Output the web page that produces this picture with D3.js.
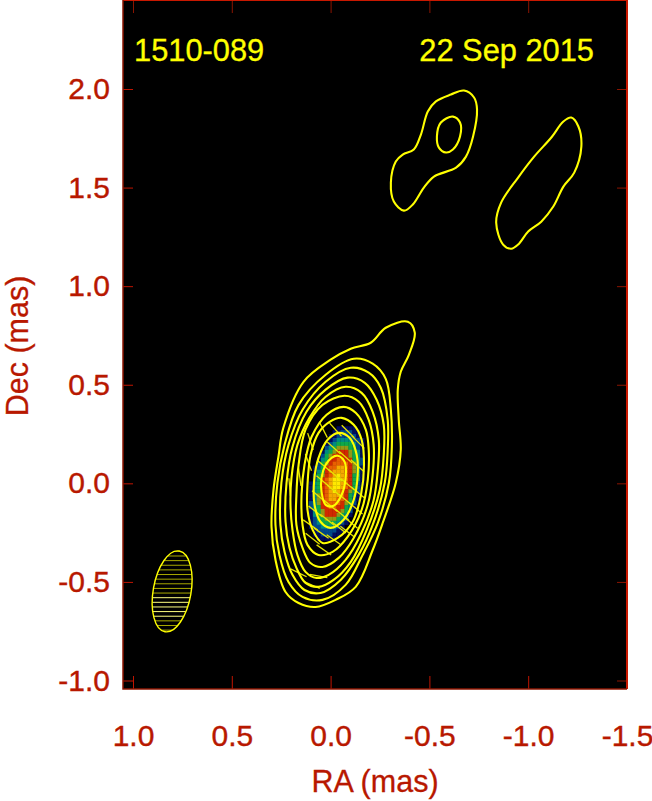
<!DOCTYPE html>
<html>
<head>
<meta charset="utf-8">
<script src="https://cdn.jsdelivr.net/npm/d3@7"></script>
<style>
  body { margin: 0; background: #fff; }
  svg { display: block; }
  text { font-family: "Liberation Sans", Arial, sans-serif; }
  .axis text { font-size: 30px; fill: #b81800; stroke: #b81800; stroke-width: 0.4; }
  .axis line { stroke-width: 1; }
  .x0 line, .y0 line { stroke: #c01400; }
  .x1 line, .y1 line { stroke: #8a1400; }
  .title { font-size: 30.8px; fill: #ffff00; stroke: #ffff00; stroke-width: 0.3; }
  .label { font-size: 30.5px; fill: #b81800; stroke: #b81800; stroke-width: 0.3; }
</style>
</head>
<body>
<div id="graphic"></div>
<script>
// tick values and labels
var raTicks = [1.0, 0.5, 0.0, -0.5, -1.0, -1.5];
var raLabels = ["1.0", "0.5", "0.0", "-0.5", "-1.0", "-1.5"];
var decTicks = [2.0, 1.5, 1.0, 0.5, 0.0, -0.5, -1.0];
var decLabels = ["2.0", "1.5", "1.0", "0.5", "0.0", "-0.5", "-1.0"];

// contours, [RA, Dec] in mas
var contourOuter = [[-.391,.820],[-.426,.764],[-.396,.652],[-.355,.566],[-.340,.475],[-.345,.322],[-.355,.170],[-.330,.003],[-.264,-.200],[-.213,-.338],[-.127,-.525],[-.025,-.591],[.076,-.627],[.162,-.607],[.228,-.551],[.279,-.388],[.299,-.221],[.289,-.033],[.264,.135],[.239,.282],[.137,.515],[0,.627],[-.102,.683],[-.203,.713],[-.279,.789]];
var contour1 = [[-.117,.632],[-.213,.607],[-.279,.530],[-.305,.373],[-.310,.185],[-.295,.003],[-.239,-.200],[-.162,-.363],[-.076,-.515],[.041,-.591],[.142,-.576],[.213,-.500],[.259,-.363],[.279,-.211],[.269,.003],[.233,.195],[.162,.398],[.025,.551]];
var contour2 = [[-.102,.586],[-.193,.561],[-.254,.485],[-.289,.322],[-.289,.170],[-.274,.003],[-.213,-.211],[-.142,-.363],[-.051,-.490],[.051,-.556],[.132,-.541],[.193,-.464],[.233,-.348],[.254,-.211],[.249,.003],[.213,.195],[.142,.373],[.025,.515]];
var contour3 = [[-.086,.536],[-.173,.510],[-.233,.424],[-.269,.297],[-.269,.145],[-.249,-.033],[-.183,-.236],[-.102,-.398],[-.015,-.490],[.061,-.525],[.127,-.505],[.173,-.429],[.208,-.327],[.228,-.195],[.223,.003],[.193,.185],[.122,.363],[.025,.475]];
var contour4 = [[-.076,.490],[-.157,.459],[-.213,.363],[-.244,.221],[-.239,.069],[-.218,-.084],[-.152,-.261],[-.076,-.388],[.010,-.464],[.071,-.480],[.127,-.449],[.168,-.363],[.193,-.236],[.203,-.109],[.198,.028],[.168,.195],[.107,.332],[.025,.439]];
var contour5 = [[-.071,.444],[-.142,.414],[-.193,.322],[-.218,.195],[-.213,.043],[-.188,-.109],[-.117,-.277],[-.041,-.378],[.041,-.424],[.102,-.404],[.142,-.327],[.173,-.211],[.173,-.058],[.162,.094],[.127,.272],[.041,.398]];
var contour6 = [[-.066,.388],[-.127,.358],[-.178,.272],[-.193,.170],[-.188,.018],[-.157,-.135],[-.086,-.272],[-.010,-.348],[.061,-.363],[.117,-.312],[.142,-.211],[.147,-.058],[.132,.094],[.096,.236],[.020,.348]];
var contour7 = [[-.056,.332],[-.117,.297],[-.157,.221],[-.169,.094],[-.154,-.058],[-.112,-.195],[-.036,-.277],[.041,-.302],[.091,-.236],[.117,-.135],[.117,-.008],[.101,.145],[.061,.256],[.005,.312]];
var contour8 = [[-.041,.256],[-.096,.231],[-.132,.145],[-.137,.043],[-.117,-.084],[-.066,-.185],[0,-.226],[.051,-.195],[.081,-.109],[.083,.018],[.061,.129],[.015,.221]];
var contour9 = [[-.036,.140],[-.071,.109],[-.076,.028],[-.056,-.058],[-.015,-.114],[.025,-.109],[.046,-.043],[.046,.028],[.025,.094],[-.005,.129]];
var jetBlob = [[-.675,1.992],[-.726,1.957],[-.741,1.896],[-.721,1.759],[-.685,1.657],[-.635,1.601],[-.523,1.556],[-.472,1.500],[-.416,1.414],[-.371,1.383],[-.320,1.429],[-.305,1.525],[-.330,1.632],[-.365,1.667],[-.421,1.693],[-.457,1.769],[-.492,1.886],[-.533,1.937],[-.609,1.972]];
var jetBlobInner = [[-.619,1.860],[-.655,1.830],[-.655,1.759],[-.619,1.693],[-.584,1.678],[-.548,1.703],[-.538,1.759],[-.558,1.830]];
var farBlob = [[-1.218,1.855],[-1.254,1.810],[-1.269,1.708],[-1.233,1.576],[-1.178,1.505],[-1.127,1.404],[-1.066,1.327],[-1.000,1.277],[-.949,1.211],[-.914,1.190],[-.873,1.211],[-.838,1.322],[-.863,1.424],[-.949,1.551],[-1.030,1.657],[-1.117,1.754],[-1.178,1.835]];

// image levels, one string per row, Dec from +0.28 down to -0.28, RA from 0.12 to -0.16
var imageRows = [
  "000000001111100",
  "000000011222110",
  "000000112222210",
  "000000123333221",
  "000001234444321",
  "000002345554421",
  "000013456665431",
  "000024566665431",
  "000134667766432",
  "000245677776532",
  "001246778876531",
  "001346788876531",
  "002456789876431",
  "002467899876431",
  "013467899876421",
  "013467899876420",
  "013467898765420",
  "013567888764310",
  "013567887764210",
  "023567777654200",
  "023466776643100",
  "013456666542000",
  "013456665431000",
  "012445554320000",
  "012344443210000",
  "012233332100000",
  "001222221100000",
  "001122211000000",
  "000111110000000"
];
var imageDec = d3.range(imageRows.length).map(function (i) { return 0.28 - i * 0.02; });
var imageRa = d3.range(15).map(function (i) { return 0.12 - i * 0.02; });
var imageColors = ["#000000", "#04085a", "#05488a", "#058a80", "#0fa848", "#8f9a14", "#d02a00", "#e86000", "#f5a800", "#ffe800"];

// polarization sticks: RA, Dec, EVPA in degrees
var stickRa = [-.088,-.139,-.025,.037,-.017,-.076,-.136,.030,-.025,-.085,-.139,.037,-.017,-.076,-.127,.059,0,-.059,-.102,.076,.017,-.042,-.085,.102,.047,-.017,.034,.102,.112,.156,.207,.162,.096,.061,.091];
var stickDec = [.263,.209,.272,.272,.179,.133,.089,.085,.040,-.004,-.047,.009,-.037,-.084,-.126,-.067,-.114,-.160,-.199,-.143,-.185,-.224,-.245,-.211,-.253,-.287,-.338,.212,.106,.031,-.019,-.454,-.515,-.470,-.281];
var stickEvpa = [45,45,42,27,48,48,48,50,50,50,50,50,50,50,50,50,50,50,50,52,52,52,52,55,55,55,55,18,20,8,5,64,66,80,52];

// restoring beam in mas and degrees
var beamRa = 0.802, beamDec = -0.548, beamMajor = 0.208, beamMinor = 0.096, beamPa = -10;

var width = 652, height = 801;
var margin = {top: 0, right: 25, bottom: 112, left: 123};
var svg = d3.select("#graphic").append("svg")
    .attr("width", width)
    .attr("height", height);

var xScale = d3.scaleLinear().domain([1.0, -1.5]).range([133, 627]);
var yScale = d3.scaleLinear().domain([2.0, -1.0]).range([89, 680.5]);
var plotRight = width - margin.right, plotBottom = height - margin.bottom;

svg.append("rect")
    .attr("x", margin.left)
    .attr("y", margin.top)
    .attr("width", plotRight - margin.left)
    .attr("height", plotBottom - margin.top)
    .attr("fill", "#000");

var defs = svg.append("defs");
defs.append("filter").attr("id", "soften")
    .append("feGaussianBlur").attr("stdDeviation", 0.7);

// IMAGE
var cellW = Math.abs(xScale(0) - xScale(0.02)), cellH = Math.abs(yScale(0) - yScale(0.02));
var imageG = svg.append("g").attr("filter", "url(#soften)");
imageRows.forEach(function (row, r) {
  row.split("").forEach(function (v, c) {
    if (v === "0") return;
    imageG.append("rect")
        .attr("x", xScale(imageRa[c]) - cellW / 2)
        .attr("y", yScale(imageDec[r]) - cellH / 2)
        .attr("width", cellW + 0.3)
        .attr("height", cellH + 0.3)
        .attr("fill", imageColors[+v]);
  });
});

// STICKS
var stickLen = 0.09;
stickRa.forEach(function (ra, i) {
  var a = stickEvpa[i] * Math.PI / 180;
  svg.append("line")
      .attr("x1", xScale(ra + Math.sin(a) * stickLen / 2))
      .attr("y1", yScale(stickDec[i] + Math.cos(a) * stickLen / 2))
      .attr("x2", xScale(ra - Math.sin(a) * stickLen / 2))
      .attr("y2", yScale(stickDec[i] - Math.cos(a) * stickLen / 2))
      .attr("stroke", "#e6e600")
      .attr("stroke-width", 1.3);
});

// CONTOURS
var contourLine = d3.line()
    .x(function (d) { return xScale(d[0]); })
    .y(function (d) { return yScale(d[1]); })
    .curve(d3.curveCatmullRomClosed.alpha(0.5));

var contours = [contourOuter, contour1, contour2, contour3, contour4, contour5, contour6, contour7, contour8, contour9, jetBlob, jetBlobInner, farBlob];
svg.selectAll(".contour")
    .data(contours)
    .enter()
    .append("path")
    .attr("class", "contour")
    .attr("d", contourLine)
    .attr("fill", "none")
    .attr("stroke", "#ffff00")
    .attr("stroke-width", 2.1);

// BEAM
var bx = xScale(beamRa), by = yScale(beamDec);
var bMaj = Math.abs(yScale(0) - yScale(beamMajor));
var bMin = Math.abs(yScale(0) - yScale(beamMinor));
defs.append("clipPath").attr("id", "beamClip")
    .append("ellipse")
    .attr("cx", bx).attr("cy", by)
    .attr("rx", bMin).attr("ry", bMaj)
    .attr("transform", "rotate(" + (-beamPa) + " " + bx + " " + by + ")");

d3.range(-0.22, 0.22, 0.0235).forEach(function (off) {
  var bright = off < -0.02 && off > -0.13;
  svg.append("line")
      .attr("clip-path", "url(#beamClip)")
      .attr("x1", xScale(beamRa + 0.2))
      .attr("x2", xScale(beamRa - 0.2))
      .attr("y1", yScale(beamDec + off))
      .attr("y2", yScale(beamDec + off))
      .attr("stroke", bright ? "#ffff80" : "#a8a800")
      .attr("stroke-width", 1);
});
svg.append("ellipse")
    .attr("cx", bx).attr("cy", by)
    .attr("rx", bMin).attr("ry", bMaj)
    .attr("transform", "rotate(" + (-beamPa) + " " + bx + " " + by + ")")
    .attr("fill", "none")
    .attr("stroke", "#ffff00")
    .attr("stroke-width", 1.4);

// AXIS
var xAxis = d3.axisBottom(xScale)
    .tickValues(raTicks)
    .tickSize(-13)
    .tickPadding(36)
    .tickFormat(function (d, i) { return raLabels[i]; });
var xAxisTop = d3.axisTop(xScale).tickValues(raTicks).tickSize(-13).tickFormat("");
var yAxis = d3.axisLeft(yScale)
    .tickValues(decTicks)
    .tickSize(-10)
    .tickPadding(13)
    .tickFormat(function (d, i) { return decLabels[i]; });
var yAxisRight = d3.axisRight(yScale).tickValues(decTicks).tickSize(-10).tickFormat("");

svg.append("g").attr("class", "axis x0").attr("transform", "translate(0," + plotBottom + ")").call(xAxis);
svg.append("g").attr("class", "axis x1").attr("transform", "translate(0," + margin.top + ")").call(xAxisTop);
svg.append("g").attr("class", "axis y0").attr("transform", "translate(" + margin.left + ",0)").call(yAxis);
svg.append("g").attr("class", "axis y1").attr("transform", "translate(" + plotRight + ",0)").call(yAxisRight);
svg.selectAll(".axis .domain").remove();

// frame, left and bottom are darker than top and right
var frame = d3.path();
frame.moveTo(margin.left, margin.top);
frame.lineTo(plotRight, margin.top);
frame.lineTo(plotRight, plotBottom);
svg.append("path").attr("d", frame.toString()).attr("fill", "none").attr("stroke", "#c81800").attr("stroke-width", 2);
var frameDark = d3.path();
frameDark.moveTo(margin.left, margin.top);
frameDark.lineTo(margin.left, plotBottom);
frameDark.lineTo(plotRight, plotBottom);
svg.append("path").attr("d", frameDark.toString()).attr("fill", "none").attr("stroke", "#8a1400").attr("stroke-width", 1.5);

// TEXT
svg.append("text").attr("class", "title").attr("x", 134).attr("y", 61).text("1510-089");
svg.append("text").attr("class", "title").attr("x", 594).attr("y", 61).attr("text-anchor", "end").text("22 Sep 2015");
svg.append("text").attr("class", "label").attr("x", 375).attr("y", 792).attr("text-anchor", "middle").text("RA (mas)");
svg.append("text").attr("class", "label")
    .attr("transform", "translate(28,346) rotate(-90)")
    .attr("text-anchor", "middle")
    .text("Dec (mas)");
</script>
</body>
</html>
